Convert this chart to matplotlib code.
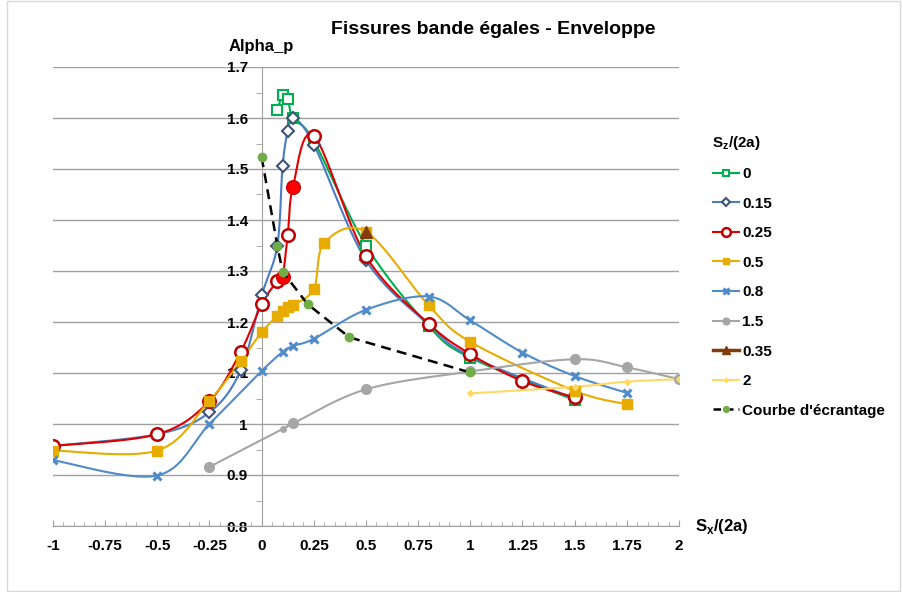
import numpy as np
import matplotlib
matplotlib.use('Agg')
import matplotlib.pyplot as plt
from matplotlib.patches import Rectangle
from matplotlib.ticker import MultipleLocator

plt.rcParams['font.family'] = ['Liberation Sans', 'DejaVu Sans']
plt.rcParams['font.weight'] = 'bold'
plt.rcParams['mathtext.fontset'] = 'custom'
plt.rcParams['mathtext.rm'] = 'Liberation Sans:bold'
plt.rcParams['mathtext.bf'] = 'Liberation Sans:bold'

# --- data ---
x_0 = [0.075, 0.1, 0.125, 0.15, 0.25, 0.5, 0.8, 1.0, 1.5]
y_0 = [1.615, 1.645, 1.638, 1.600, 1.555, 1.350, 1.192, 1.130, 1.047]

x_015 = [-1, -0.5, -0.25, -0.1, 0, 0.075, 0.1, 0.125, 0.15, 0.25, 0.5, 0.8, 1.0, 1.5]
y_015 = [0.957, 0.980, 1.023, 1.106, 1.252, 1.350, 1.505, 1.575, 1.600, 1.548, 1.321, 1.195, 1.133, 1.050]

x_025 = [-1, -0.5, -0.25, -0.1, 0, 0.075, 0.1, 0.125, 0.15, 0.25, 0.5, 0.8, 1.0, 1.25, 1.5]
y_025 = [0.957, 0.980, 1.045, 1.142, 1.235, 1.280, 1.289, 1.371, 1.465, 1.565, 1.329, 1.197, 1.137, 1.084, 1.052]
filled_025 = [0.1, 0.15]

x_05 = [-1, -0.5, -0.25, -0.1, 0, 0.075, 0.1, 0.125, 0.15, 0.25, 0.3, 0.5, 0.8, 1.0, 1.5, 1.75]
y_05 = [0.948, 0.948, 1.046, 1.124, 1.180, 1.212, 1.222, 1.229, 1.233, 1.265, 1.355, 1.377, 1.233, 1.161, 1.065, 1.039]

x_08 = [-1, -0.5, -0.25, 0, 0.1, 0.15, 0.25, 0.5, 0.8, 1.0, 1.25, 1.5, 1.75]
y_08 = [0.929, 0.899, 1.000, 1.104, 1.141, 1.153, 1.167, 1.224, 1.250, 1.203, 1.140, 1.094, 1.061]

x_15 = [-0.25, 0.1, 0.15, 0.5, 1.0, 1.5, 1.75, 2.0]
y_15 = [0.916, 0.990, 1.001, 1.068, 1.103, 1.127, 1.111, 1.088]
small_15 = [0.1]

x_035 = [0.5]
y_035 = [1.377]

x_2 = [1.0, 1.5, 1.75, 2.0]
y_2 = [1.060, 1.073, 1.083, 1.088]

x_ecr = [0, 0.075, 0.1, 0.22, 0.42, 1.0]
y_ecr = [1.523, 1.350, 1.299, 1.235, 1.170, 1.101]

xticks = [-1, -0.75, -0.5, -0.25, 0, 0.25, 0.5, 0.75, 1, 1.25, 1.5, 1.75, 2]
xticklabels = ['-1', '-0.75', '-0.5', '-0.25', '0', '0.25', '0.5', '0.75', '1', '1.25', '1.5', '1.75', '2']
yticks = [0.8, 0.9, 1, 1.1, 1.2, 1.3, 1.4, 1.5, 1.6, 1.7]
yticklabels = ['0.8', '0.9', '1', '1.1', '1.2', '1.3', '1.4', '1.5', '1.6', '1.7']

# px per data unit, so the smoothing is done in screen space like Excel
SX, SY = 626 / 3.0, 459 / 0.9


def smooth(xs, ys, n=24):
    P = np.column_stack([np.asarray(xs, float) * SX, np.asarray(ys, float) * SY])
    if len(P) < 3:
        return xs, ys
    out = []
    t = np.linspace(0, 1, n)[:, None]
    for i in range(len(P) - 1):
        p0 = P[i - 1] if i > 0 else P[i]
        p1, p2 = P[i], P[i + 1]
        p3 = P[i + 2] if i + 2 < len(P) else P[i + 1]
        c1 = p1 + (p2 - p0) / 6
        c2 = p2 - (p3 - p1) / 6
        seg = (1 - t)**3 * p1 + 3 * (1 - t)**2 * t * c1 + 3 * (1 - t) * t**2 * c2 + t**3 * p2
        out.append(seg if i == 0 else seg[1:])
    out = np.vstack(out)
    return out[:, 0] / SX, out[:, 1] / SY


fig = plt.figure(figsize=(9.04, 5.92), dpi=100)
ax = fig.add_axes([53 / 904, 1 - 526 / 592, 626 / 904, 459 / 592])

series = [
    ('0', x_0, y_0, dict(color='#00B050', marker='s', mfc='white', mec='#00B050', ms=7, mew=1.5)),
    ('0.15', x_015, y_015, dict(color='#4A7CC4', marker='D', mfc='white', mec='#3D5378', ms=6, mew=1.5)),
    ('0.25', x_025, y_025, dict(color='#E00000', marker='o', mfc='white', mec='#C00000', ms=9, mew=1.8)),
    ('0.5', x_05, y_05, dict(color='#E8AB00', marker='s', mfc='#E8AB00', mec='#E8AB00', ms=7)),
    ('0.8', x_08, y_08, dict(color='#4F8CC9', marker='x', mfc='#4F8CC9', mec='#4F8CC9', ms=6, mew=2.2)),
    ('1.5', x_15, y_15, dict(color='#A6A6A6', marker='o', mfc='#A6A6A6', mec='#A6A6A6', ms=7)),
    ('0.35', x_035, y_035, dict(color='#843C0C', marker='^', mfc='#843C0C', mec='#843C0C', ms=8, lw=2.5)),
    ('2', x_2, y_2, dict(color='#FFD966', marker='D', mfc='#FFD966', mec='#FFD966', ms=3)),
]

handles = []
for lab, xs, ys, st in series:
    st = dict(st)
    lw = st.pop('lw', 1.5)
    color = st.pop('color')
    sx, sy = smooth(xs, ys)
    ax.plot(sx, sy, color=color, lw=lw, zorder=3)
    if lab == '1.5':
        big = [i for i, x in enumerate(xs) if x not in small_15]
        ax.plot(xs, ys, ls='none', zorder=4, markevery=big, **st)
        ax.plot([x for x in xs if x in small_15], [y for x, y in zip(xs, ys) if x in small_15],
                ls='none', marker='o', ms=4, color=color, zorder=4)
    else:
        ax.plot(xs, ys, ls='none', zorder=4, **st)
    if lab == '0.25':
        fx = [x for x in xs if x in filled_025]
        fy = [y for x, y in zip(xs, ys) if x in filled_025]
        ax.plot(fx, fy, ls='none', marker='o', ms=9, mfc='#FF0000', mec='#E00000', zorder=4)
    h, = ax.plot([], [], color=color, lw=lw, **st)
    handles.append((h, lab))

ax.plot(x_ecr, y_ecr, color='black', lw=1.8, ls=(0, (4, 2.5)), zorder=5)
ax.plot(x_ecr, y_ecr, ls='none', marker='o', ms=6, mfc='#70AD47', mec='#70AD47', zorder=6)
h, = ax.plot([], [], color='black', lw=1.8, ls=(0, (3, 2)), marker='o', ms=6, mfc='#70AD47', mec='#70AD47')
handles.append((h, "Courbe d'écrantage"))

ax.set_xlim(-1, 2)
ax.set_ylim(0.8, 1.7)
ax.set_xticks(xticks)
ax.set_xticklabels(xticklabels)
ax.set_yticks(yticks)
ax.set_yticklabels(yticklabels)
ax.xaxis.set_minor_locator(MultipleLocator(0.05))
ax.yaxis.set_minor_locator(MultipleLocator(0.05))
ax.grid(axis='y', which='major', color='#A0A0A0', lw=1)
ax.set_axisbelow(True)

for s in ['top', 'right']:
    ax.spines[s].set_visible(False)
ax.spines['left'].set_position(('data', 0))
ax.spines['left'].set_color('#A0A0A0')
ax.spines['bottom'].set_color('#A0A0A0')
ax.tick_params(axis='x', which='both', direction='in', color='#A0A0A0', labelsize=11, pad=9.5)
ax.tick_params(axis='x', which='major', length=4)
ax.tick_params(axis='x', which='minor', length=3)
ax.tick_params(axis='y', which='major', length=0, labelsize=11, pad=10)
ax.tick_params(axis='y', which='minor', length=4, direction='out', color='#A0A0A0')

fig.text(493 / 904, 1 - 30 / 592, 'Fissures bande égales - Enveloppe', ha='center', va='center',
         fontsize=14, fontweight='bold')
fig.text(261 / 904, 1 - 46 / 592, 'Alpha_p', ha='center', va='center', fontsize=12, fontweight='bold')
fig.text(695 / 904, 1 - 527 / 592, r'S$_\mathbf{x}$/(2a)', ha='left', va='center', fontsize=12, fontweight='bold')
fig.text(712 / 904, 1 - 143 / 592, r'S$_\mathbf{z}$/(2a)', ha='left', va='center', fontsize=11, fontweight='bold')

fig.legend([h for h, _ in handles], [l for _, l in handles], loc='upper left',
           bbox_to_anchor=(713 / 904, 1 - 167 / 592), frameon=False,
           handlelength=1.7, handletextpad=0.2, labelspacing=1.02, borderpad=0, borderaxespad=0,
           markerscale=0.7, prop={'weight': 'bold', 'size': 11})

fig.patches.append(Rectangle((7 / 904, 1 / 592), 893 / 904, 590 / 592, transform=fig.transFigure,
                             fill=False, edgecolor='#D9D9D9', lw=1))

fig.savefig('out.png', dpi=100)
